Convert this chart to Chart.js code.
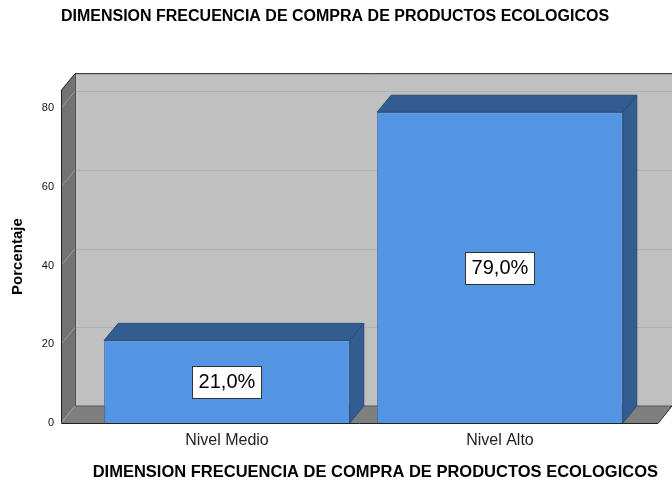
<!DOCTYPE html>
<html>
<head>
<meta charset="utf-8">
<script src="https://cdn.jsdelivr.net/npm/chart.js"></script>
<style>
  html, body { margin: 0; padding: 0; background: #fff; }
  #wrap { width: 672px; height: 484px; }
</style>
</head>
<body>
<div id="wrap"><canvas id="chart" width="672" height="484"></canvas></div>
<script>
// Datos
const categorias = ["Nivel Medio", "Nivel Alto"];
const porcentajes = [21.0, 79.0];
const etiquetas = ["21,0%", "79,0%"];
const ticksY = [0, 20, 40, 60, 80];

const titulo = "DIMENSION FRECUENCIA DE COMPRA DE PRODUCTOS ECOLOGICOS";
const FUENTE = "'Liberation Sans', Arial, sans-serif";

// profundidad del efecto 3D
const DX = 14, DY = -17;

function poly(ctx, pts, fill, stroke) {
    ctx.beginPath();
    ctx.moveTo(pts[0][0], pts[0][1]);
    for (let i = 1; i < pts.length; i++) ctx.lineTo(pts[i][0], pts[i][1]);
    ctx.closePath();
    if (fill) { ctx.fillStyle = fill; ctx.fill(); }
    if (stroke) { ctx.strokeStyle = stroke; ctx.lineWidth = 1; ctx.stroke(); }
}

// Paredes y suelo del grafico
const cajaPlugin = {
    id: "caja3d",
    beforeDatasetsDraw(chart) {
        const ctx = chart.ctx;
        const y = chart.scales.y;
        const a = chart.chartArea;
        const y0 = y.getPixelForValue(0);
        const yt = y.getPixelForValue(y.max);
        const xl = a.left, xr = a.right;
        ctx.save();
        // pared trasera
        poly(ctx, [[xl + DX, yt + DY], [xr + DX, yt + DY], [xr + DX, y0 + DY], [xl + DX, y0 + DY]], "#c0c0c0");
        // pared izquierda
        poly(ctx, [[xl, yt], [xl + DX, yt + DY], [xl + DX, y0 + DY], [xl, y0]], "#737373");
        // suelo
        poly(ctx, [[xl, y0], [xl + DX, y0 + DY], [xr + DX, y0 + DY], [xr, y0]], "#7f7f7f");
        // lineas de cuadricula
        ticksY.forEach(v => {
            const py = y.getPixelForValue(v);
            if (v > 0) {
                ctx.strokeStyle = "#b2b2b2";
                ctx.lineWidth = 1;
                ctx.beginPath();
                ctx.moveTo(xl + DX, Math.round(py + DY) + 0.5);
                ctx.lineTo(xr + DX, Math.round(py + DY) + 0.5);
                ctx.stroke();
            }
            ctx.strokeStyle = "#9a9a9a";
            ctx.beginPath();
            ctx.moveTo(xl, py);
            ctx.lineTo(xl + DX, py + DY);
            ctx.stroke();
        });
        // aristas interiores
        ctx.strokeStyle = "#555";
        ctx.lineWidth = 1;
        ctx.beginPath();
        ctx.moveTo(xl + DX + 0.5, yt + DY);
        ctx.lineTo(xl + DX + 0.5, y0 + DY);
        ctx.lineTo(xr + DX, y0 + DY);
        ctx.stroke();
        // aristas exteriores
        ctx.strokeStyle = "#222";
        ctx.beginPath();
        ctx.moveTo(xr, y0 + 0.5);
        ctx.lineTo(xl + 0.5, y0 + 0.5);
        ctx.lineTo(xl + 0.5, yt);
        ctx.lineTo(xl + DX, yt + DY + 0.5);
        ctx.lineTo(xr + DX, yt + DY + 0.5);
        ctx.moveTo(xr, y0 + 0.5);
        ctx.lineTo(xr + DX, y0 + DY);
        ctx.stroke();
        ctx.restore();
    },
    afterDatasetsDraw(chart) {
        const ctx = chart.ctx;
        const meta = chart.getDatasetMeta(0);
        ctx.save();
        meta.data.forEach((bar, i) => {
            const w = bar.width;
            const x1 = bar.x - w / 2, x2 = bar.x + w / 2;
            const top = bar.y, base = bar.base;
            // cara superior
            poly(ctx, [[x1, top], [x1 + DX, top + DY], [x2 + DX, top + DY], [x2, top]], "#335d91", "#2a4c78");
            // cara lateral
            poly(ctx, [[x2, top], [x2 + DX, top + DY], [x2 + DX, base + DY], [x2, base]], "#335d91", "#2a4c78");
            // etiqueta
            const cy = (top + base) / 2;
            ctx.font = "20px " + FUENTE;
            const tw = ctx.measureText(etiquetas[i]).width;
            const bw = Math.round(tw + 12), bh = 32;
            const bx = Math.round(bar.x - bw / 2) + 0.5, by = Math.round(cy - bh / 2) + 0.5;
            ctx.fillStyle = "#fff";
            ctx.fillRect(bx, by, bw, bh);
            ctx.strokeStyle = "#333";
            ctx.lineWidth = 1;
            ctx.strokeRect(bx, by, bw, bh);
            ctx.fillStyle = "#000";
            ctx.textAlign = "center";
            ctx.textBaseline = "middle";
            ctx.fillText(etiquetas[i], bar.x, cy + 1);
        });
        ctx.restore();
    }
};

const puntos = porcentajes.map((v, i) => ({ x: i, y: v }));

new Chart(document.getElementById("chart"), {
    type: "bar",
    data: {
        datasets: [{
            data: puntos,
            backgroundColor: "#5394e3",
            borderColor: "#3f70ab",
            borderWidth: 1,
            barPercentage: 0.9,
            categoryPercentage: 1.0
        }]
    },
    options: {
        responsive: false,
        animation: false,
        layout: { padding: { left: 0, right: 2, top: 0, bottom: 0 } },
        plugins: {
            legend: { display: false },
            tooltip: { enabled: false },
            title: {
                display: true,
                text: titulo,
                color: "#000",
                font: { family: FUENTE, size: 16, weight: "bold" },
                padding: { top: 7, bottom: 64 }
            }
        },
        scales: {
            x: {
                type: "linear",
                min: -0.608,
                max: 1.579,
                offset: false,
                bounds: "data",
                grid: { display: false, offset: false },
                border: { display: false },
                afterBuildTicks: s => { s.ticks = categorias.map((c, i) => ({ value: i })); },
                afterFit: s => { s.height = 61; },
                ticks: {
                    color: "#222",
                    padding: 0,
                    font: { family: FUENTE, size: 16 },
                    callback: v => categorias[v]
                },
                title: {
                    display: true,
                    text: titulo,
                    align: "end",
                    color: "#000",
                    font: { family: FUENTE, size: 16.5, weight: "bold" },
                    padding: { top: 4, bottom: 2 }
                }
            },
            y: {
                min: 0,
                max: 84.6,
                grid: { display: false, drawTicks: false },
                border: { display: false },
                afterBuildTicks: s => { s.ticks = ticksY.map(v => ({ value: v })); },
                afterFit: s => { s.width = 61; },
                ticks: {
                    color: "#111",
                    padding: 7,
                    font: { family: FUENTE, size: 11 }
                },
                title: {
                    display: true,
                    text: "Porcentaje",
                    color: "#000",
                    font: { family: FUENTE, size: 15, weight: "bold" },
                    padding: { top: 9, bottom: 4 }
                }
            },
            // eje vacio a la derecha para dejar sitio a la profundidad
            margen: {
                type: "linear",
                position: "right",
                display: true,
                grid: { display: false },
                border: { display: false },
                ticks: { display: false },
                afterFit: s => { s.width = 12; }
            }
        }
    },
    plugins: [cajaPlugin]
});
</script>
</body>
</html>
